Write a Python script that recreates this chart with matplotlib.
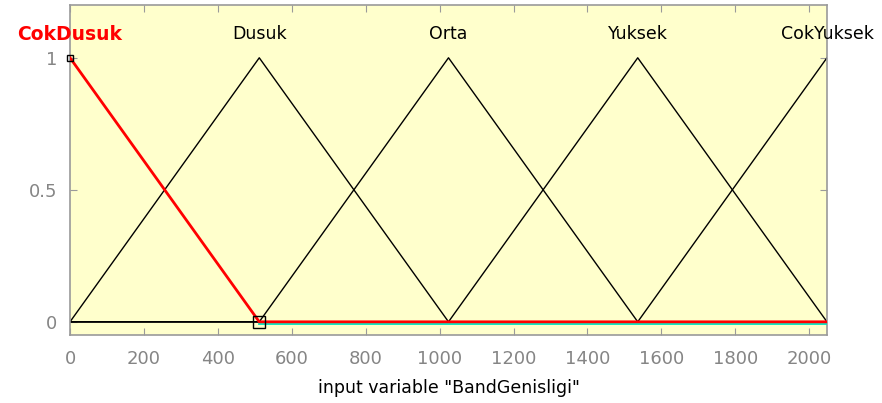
import matplotlib
matplotlib.use("Agg")
import matplotlib.pyplot as plt
import matplotlib.transforms as mtransforms

# membership functions of "BandGenisligi" (triangles)
mf_names = ["CokDusuk", "Dusuk", "Orta", "Yuksek", "CokYuksek"]
mf_params = [[-512, 0, 512], [0, 512, 1024], [512, 1024, 1536],
             [1024, 1536, 2048], [1536, 2048, 2560]]
x_range = [0, 2048]
selected = 0

xticks = [0, 200, 400, 600, 800, 1000, 1200, 1400, 1600, 1800, 2000]
yticks = [0, 0.5, 1]
yticklabels = ["0", "0.5", "1"]


def tri_points(a, b, c, lo, hi):
    # vertices of trimf clipped to the variable range
    xs, ys = [lo], [0.0]
    for px, py in [(a, 0.0), (b, 1.0), (c, 0.0)]:
        if lo < px < hi:
            xs.append(px)
            ys.append(py)
        elif px <= lo and py == 1.0:
            xs[0], ys[0] = lo, 1.0
        elif px >= hi and py == 1.0:
            xs.append(hi)
            ys.append(1.0)
    if xs[-1] != hi:
        xs.append(hi)
        ys.append(0.0)
    return xs, ys


fig = plt.figure(figsize=(8.82, 4.03), dpi=100)
ax = fig.add_axes([0.0794, 0.1687, 0.8582, 0.8189])
ax.set_facecolor("#FFFFCC")

grey = "#9A9A9A"
for s in ax.spines.values():
    s.set_color(grey)
    s.set_linewidth(1.2)

lo, hi = x_range
for i, (name, p) in enumerate(zip(mf_names, mf_params)):
    if i == selected:
        continue
    xs, ys = tri_points(*p, lo, hi)
    ax.plot(xs, ys, color="black", lw=1.0, zorder=2)
    ax.text(p[1], 1.09, name, ha="center", va="center", fontsize=12.5,
            color="black")

# selected MF drawn red with a cyan trace under it
xs, ys = tri_points(*mf_params[selected], lo, hi)
shift = mtransforms.ScaledTranslation(0, -2 / 100, fig.dpi_scale_trans)
ax.plot([mf_params[selected][2], hi], [0, 0], color="#00E0C0", lw=1.3,
        transform=ax.transData + shift, zorder=3)
ax.plot(xs, ys, color="red", lw=2.0, zorder=4)
ax.plot([mf_params[selected][1]], [1], marker="s", ms=5, mfc="none",
        mec="black", mew=1.0, zorder=5, clip_on=False)
ax.plot([mf_params[selected][2]], [0], marker="s", ms=9, mfc="none",
        mec="black", mew=1.0, zorder=5)
ax.text(mf_params[selected][1], 1.09, mf_names[selected], ha="center",
        va="center", fontsize=13.5, color="red", fontweight="bold")

ax.set_xlim(x_range)
ax.set_ylim(-0.05, 1.2)
ax.set_xticks(xticks)
ax.set_yticks(yticks)
ax.set_yticklabels(yticklabels)
ax.tick_params(direction="in", length=5, color=grey, labelcolor="#858585",
               labelsize=13, top=True, right=True)
ax.tick_params(axis="x", pad=11)
ax.tick_params(axis="y", pad=9)
ax.set_xlabel('input variable "BandGenisligi"', fontsize=12.5, labelpad=8)

fig.savefig("out.png", dpi=100)
